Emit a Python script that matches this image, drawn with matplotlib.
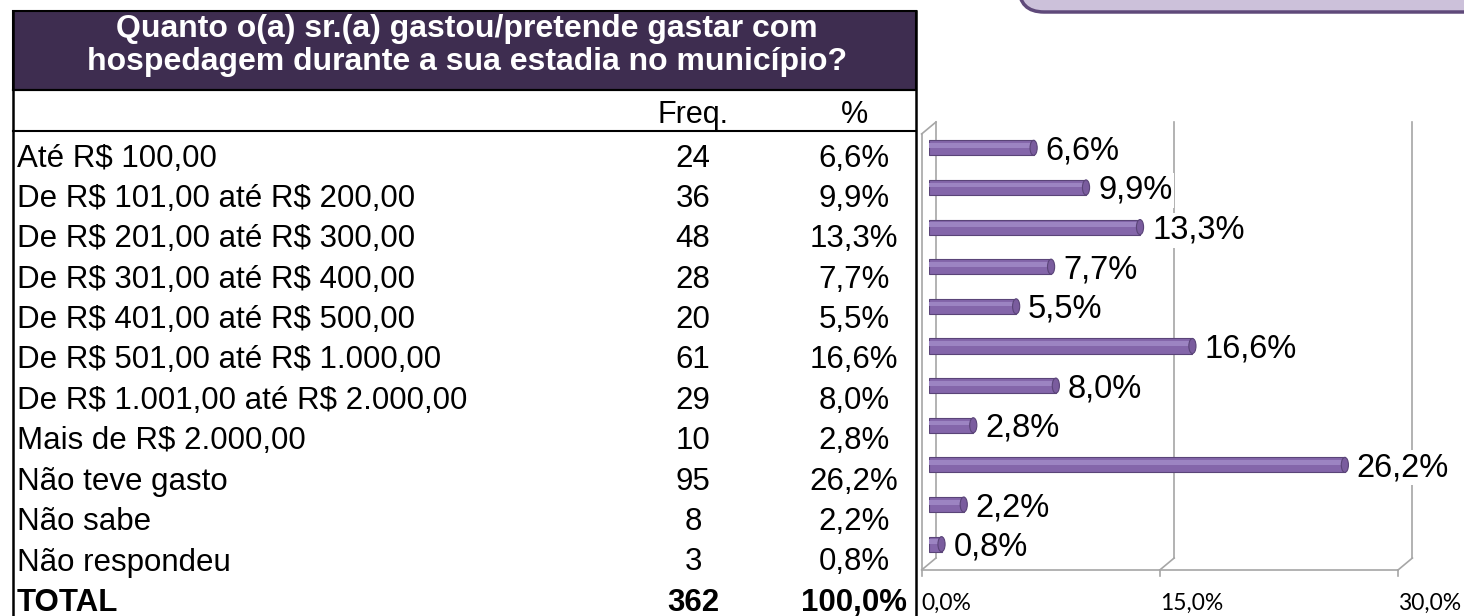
import numpy as np
import matplotlib
matplotlib.use('Agg')
from matplotlib import pyplot as plt
from matplotlib import transforms as mtransforms
from matplotlib.lines import Line2D
from matplotlib.patches import Rectangle, Ellipse, FancyBboxPatch

W, H = 1464, 616

# data
QUESTION = ['Quanto o(a) sr.(a) gastou/pretende gastar com',
            'hospedagem durante a sua estadia no município?']
categories = ['Até R$ 100,00',
              'De R$ 101,00 até R$ 200,00',
              'De R$ 201,00 até R$ 300,00',
              'De R$ 301,00 até R$ 400,00',
              'De R$ 401,00 até R$ 500,00',
              'De R$ 501,00 até R$ 1.000,00',
              'De R$ 1.001,00 até R$ 2.000,00',
              'Mais de R$ 2.000,00',
              'Não teve gasto',
              'Não sabe',
              'Não respondeu']
freq = [24, 36, 48, 28, 20, 61, 29, 10, 95, 8, 3]
pct = [6.6, 9.9, 13.3, 7.7, 5.5, 16.6, 8.0, 2.8, 26.2, 2.2, 0.8]
total_freq = 362
total_pct = 100.0
xticks = [0, 15, 30]

GRAY = '#A6A6A6'
BAR = '#8466AA'


def fmt(v):
    return '{:.1f}%'.format(v).replace('.', ',')


def fx(x):
    return x / W


def fy(y):
    return 1 - y / H


def shift(dx, dy):
    # offset in pixels (dpi=100)
    return mtransforms.ScaledTranslation(dx / 100, dy / 100, fig.dpi_scale_trans)


if __name__ == '__main__':
    plt.rcParams['font.family'] = ['Liberation Sans', 'DejaVu Sans']
    plt.rcParams['text.parse_math'] = False
    fig = plt.figure(figsize=(W / 100, H / 100), dpi=100)
    fig.patch.set_facecolor('white')

    # --- table on the left ---
    fig.add_artist(Rectangle((fx(13), fy(90)), fx(916) - fx(13), fy(11) - fy(90),
                             transform=fig.transFigure, facecolor='#3E2D50',
                             edgecolor='black', lw=1.5))
    for yy in (90, 131):
        fig.add_artist(Line2D([fx(13), fx(916)], [fy(yy), fy(yy)], color='black', lw=1.5,
                              transform=fig.transFigure))
    for xx in (13, 916):
        fig.add_artist(Line2D([fx(xx), fx(xx)], [fy(11), fy(616)], color='black', lw=1.8,
                              transform=fig.transFigure))

    fig.text(fx(467), fy(37), QUESTION[0], color='white', weight='bold', size=23,
             ha='center', va='baseline')
    fig.text(fx(467), fy(70), QUESTION[1], color='white', weight='bold', size=23,
             ha='center', va='baseline')
    fig.text(fx(693), fy(123), 'Freq.', size=22, ha='center', va='baseline')
    fig.text(fx(855), fy(123), '%', size=22, ha='center', va='baseline')

    for i, (cat, f, p) in enumerate(zip(categories, freq, pct)):
        yb = 166.5 + 40.4 * i
        fig.text(fx(17), fy(yb), cat, size=22.5, ha='left', va='baseline')
        fig.text(fx(693), fy(yb), str(f), size=22.5, ha='center', va='baseline')
        fig.text(fx(854), fy(yb), fmt(p), size=22.5, ha='center', va='baseline')
    fig.text(fx(17), fy(611), 'TOTAL', size=22.5, weight='bold', ha='left', va='baseline')
    fig.text(fx(693), fy(611), str(total_freq), size=22.5, weight='bold', ha='center',
             va='baseline')
    fig.text(fx(854), fy(611), fmt(total_pct), size=22.5, weight='bold', ha='center',
             va='baseline')

    # --- rounded box at top right ---
    fig.add_artist(FancyBboxPatch((10.19, (H - 12) / 100), 6, 1,
                                  boxstyle='round,pad=0,rounding_size=0.25',
                                  transform=fig.dpi_scale_trans, facecolor='#CCC1DA',
                                  edgecolor='#5F497A', lw=2.5))

    # --- 3d-ish bar chart ---
    ax = fig.add_axes([928.8 / W, 1 - 564 / H, 476.4 / W, 436 / H])
    ax.set_xlim(0, 30)
    ax.set_ylim(10.5, -0.5)
    ax.axis('off')

    front = ax.transData + shift(-7.2, -6)
    back = ax.transData + shift(7.2, 6)
    top, bottom = -0.5, 10.5

    # walls and gridlines
    ax.plot([0, 0], [top, bottom], color=GRAY, lw=1.2, transform=front, clip_on=False)
    for t in xticks:
        ax.plot([t, t], [top, bottom], color=GRAY, lw=1.2, transform=back, clip_on=False)
        p0 = front.transform((t, bottom))
        p1 = back.transform((t, bottom))
        fig.add_artist(Line2D([p0[0] / W, p1[0] / W], [p0[1] / H, p1[1] / H],
                              color=GRAY, lw=1.2, transform=fig.transFigure))
    p0 = front.transform((0, top))
    p1 = back.transform((0, top))
    fig.add_artist(Line2D([p0[0] / W, p1[0] / W], [p0[1] / H, p1[1] / H],
                          color=GRAY, lw=1.2, transform=fig.transFigure))
    ax.plot([0, 30], [bottom, bottom], color=GRAY, lw=1.2, transform=front, clip_on=False)
    for t in xticks:
        ax.plot([t, t], [bottom, bottom + 0.15], color=GRAY, lw=1.2, transform=front,
                clip_on=False)
        ax.text(t, bottom, fmt(t), transform=front + shift(0, -23), family='Lato',
                size=16.5, ha='left', va='top')

    # bars
    ypos = np.arange(len(pct))
    ax.barh(ypos, pct, height=0.38, color=BAR, edgecolor='#5A4478', lw=0.8, zorder=3)
    ax.barh(ypos - 0.06, pct, height=0.12, color='#9C84C2', lw=0, zorder=4)
    for i, v in enumerate(pct):
        ax.add_patch(Ellipse((v, i), 0.45, 0.38, facecolor='#7A5C9E', edgecolor='#5A4478',
                             lw=0.8, zorder=5, clip_on=False))
        ax.text(v, i, fmt(v), transform=ax.transData + shift(12, -3), size=23.5,
                ha='left', va='center', clip_on=False, zorder=6,
                bbox=dict(facecolor='white', edgecolor='none', pad=1.5))

    plt.savefig('out.png', dpi=100)
